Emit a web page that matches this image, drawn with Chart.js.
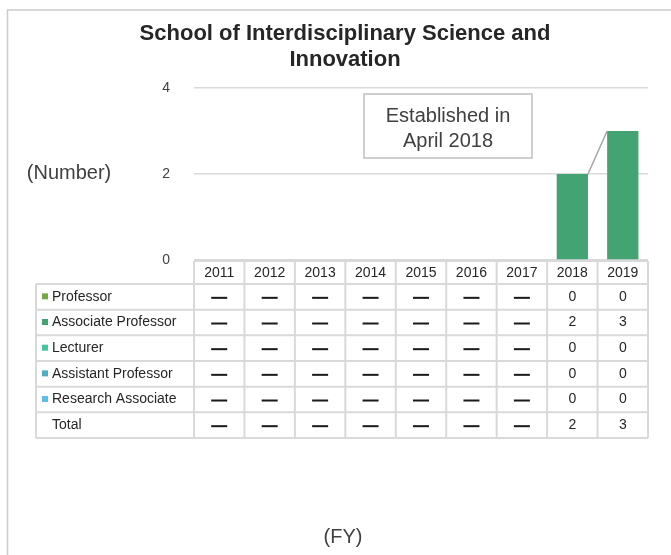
<!DOCTYPE html>
<html>
<head>
<meta charset="utf-8">
<script src="https://cdn.jsdelivr.net/npm/chart.js@4"></script>
<style>
  html, body { margin: 0; padding: 0; background: #fff; }
  #wrap { width: 671px; height: 555px; position: relative; }
</style>
</head>
<body>
<div id="wrap"><canvas id="myChart"></canvas></div>
<script>
// Donnees du graphique
const fiscalYears = ['2011', '2012', '2013', '2014', '2015', '2016', '2017', '2018', '2019'];
const professor = [null, null, null, null, null, null, null, 0, 0];
const associateProfessor = [null, null, null, null, null, null, null, 2, 3];
const lecturer = [null, null, null, null, null, null, null, 0, 0];
const assistantProfessor = [null, null, null, null, null, null, null, 0, 0];
const researchAssociate = [null, null, null, null, null, null, null, 0, 0];
const totals = [null, null, null, null, null, null, null, 2, 3];
const yTicks = [0, 2, 4];
const seriesNames = ['Professor', 'Associate Professor', 'Lecturer', 'Assistant Professor', 'Research Associate'];
const seriesColors = ['#76a844', '#43a373', '#45c3a2', '#4fadc8', '#5cbfea'];

const FONT = "'Liberation Sans', Arial, sans-serif";
Chart.defaults.font.family = FONT;

const graph = document.getElementById('myChart');

// Plugin pour dessiner le tableau, le cadre, les titres d'axes et la bulle
const sheetDecor = {
    id: 'sheetDecor',
    afterDraw(chart) {
        const ctx = chart.ctx;
        const area = chart.chartArea;
        const x = chart.scales.x;
        const colW = (area.right - area.left) / fiscalYears.length;
        ctx.save();

        // cadre
        ctx.strokeStyle = '#cccccc';
        ctx.lineWidth = 1.5;
        ctx.beginPath();
        ctx.moveTo(7.5, 560);
        ctx.lineTo(7.5, 10);
        ctx.lineTo(680, 10);
        ctx.stroke();

        // lignes de serie entre les barres 2018 et 2019
        const meta = chart.getDatasetMeta(1);
        const b1 = meta.data[7], b2 = meta.data[8];
        ctx.strokeStyle = '#a6a6a6';
        ctx.lineWidth = 1.5;
        ctx.beginPath();
        ctx.moveTo(b1.x + b1.width / 2, b1.y);
        ctx.lineTo(b2.x - b2.width / 2, b2.y);
        ctx.stroke();

        // bulle "Established in April 2018"
        ctx.fillStyle = '#ffffff';
        ctx.fillRect(364, 94, 168, 64);
        ctx.strokeStyle = '#bfbfbf';
        ctx.lineWidth = 1.5;
        ctx.strokeRect(364, 94, 168, 64);
        ctx.fillStyle = '#404040';
        ctx.font = '20px ' + FONT;
        ctx.textAlign = 'center';
        ctx.textBaseline = 'middle';
        ctx.fillText('Established in', 448, 116);
        ctx.fillText('April 2018', 448, 141);

        // titres des axes
        ctx.fillText('(Number)', 69, 173);
        ctx.fillText('(FY)', 343, 537);

        // tableau de donnees
        const top = area.bottom + 1;
        const hh = 23;      // hauteur de l'en-tete
        const rh = 25.67;   // hauteur des lignes
        const tableLeft = 36;
        const rows = seriesNames.length + 1;
        const bottom = top + hh + rh * rows;
        ctx.strokeStyle = '#d9d9d9';
        ctx.lineWidth = 2;
        ctx.beginPath();
        ctx.moveTo(area.left, top);
        ctx.lineTo(area.right, top);
        for (let k = 0; k <= rows; k++) {
            const yy = top + hh + k * rh;
            ctx.moveTo(tableLeft, yy);
            ctx.lineTo(area.right, yy);
        }
        ctx.moveTo(tableLeft, top + hh);
        ctx.lineTo(tableLeft, bottom);
        for (let i = 0; i <= fiscalYears.length; i++) {
            const xx = area.left + i * colW;
            ctx.moveTo(xx, top);
            ctx.lineTo(xx, bottom);
        }
        ctx.stroke();

        // en-tetes des annees
        ctx.fillStyle = '#262626';
        ctx.font = '14px ' + FONT;
        fiscalYears.forEach((yr, i) => {
            ctx.fillText(yr, x.getPixelForValue(i), top + hh / 2 + 1);
        });

        // lignes du tableau
        const rowValues = chart.data.datasets.map(d => d.data).concat([totals]);
        const rowNames = seriesNames.concat(['Total']);
        rowValues.forEach((vals, r) => {
            const cy = top + hh + rh * r + rh / 2;
            if (r < seriesColors.length) {
                ctx.fillStyle = seriesColors[r];
                ctx.fillRect(42, cy - 3.5, 6, 6);
            }
            ctx.fillStyle = '#262626';
            ctx.textAlign = 'left';
            ctx.font = '14px ' + FONT;
            ctx.fillText(rowNames[r], 52, cy);
            ctx.textAlign = 'center';
            vals.forEach((v, i) => {
                const cx = x.getPixelForValue(i);
                if (v === null) {
                    ctx.fillStyle = '#1a1a1a';
                    ctx.fillRect(cx - 8, cy, 16, 2);
                } else {
                    ctx.fillStyle = '#262626';
                    ctx.fillText(String(v), cx, cy);
                }
            });
        });
        ctx.restore();
    }
};

const seriesData = [professor, associateProfessor, lecturer, assistantProfessor, researchAssociate];

new Chart(graph, {
    type: 'bar',
    data: {
        labels: fiscalYears,
        datasets: seriesData.map((vals, i) => ({
            label: seriesNames[i],
            data: vals,
            backgroundColor: seriesColors[i],
            categoryPercentage: 1,
            barPercentage: 0.62
        }))
    },
    options: {
        responsive: true,
        maintainAspectRatio: false,
        animation: false,
        layout: {
            padding: { top: 8, left: 42, right: 23, bottom: 295 }
        },
        plugins: {
            legend: { display: false },
            tooltip: { enabled: false },
            title: {
                display: true,
                text: ['School of Interdisciplinary Science and', 'Innovation'],
                color: '#262626',
                font: { size: 22, weight: 'bold', lineHeight: 1.18 },
                padding: { top: 13, bottom: 15 }
            }
        },
        scales: {
            x: {
                display: false,
                stacked: true
            },
            y: {
                stacked: true,
                min: 0,
                max: 4,
                afterBuildTicks: axis => { axis.ticks = yTicks.map(v => ({ value: v })); },
                afterFit: axis => { axis.width = 152; },
                border: { display: false },
                grid: { color: '#d9d9d9', lineWidth: 1.5, drawTicks: false },
                ticks: { color: '#404040', font: { size: 14 }, padding: 24 }
            }
        }
    },
    plugins: [sheetDecor]
});
</script>
</body>
</html>
